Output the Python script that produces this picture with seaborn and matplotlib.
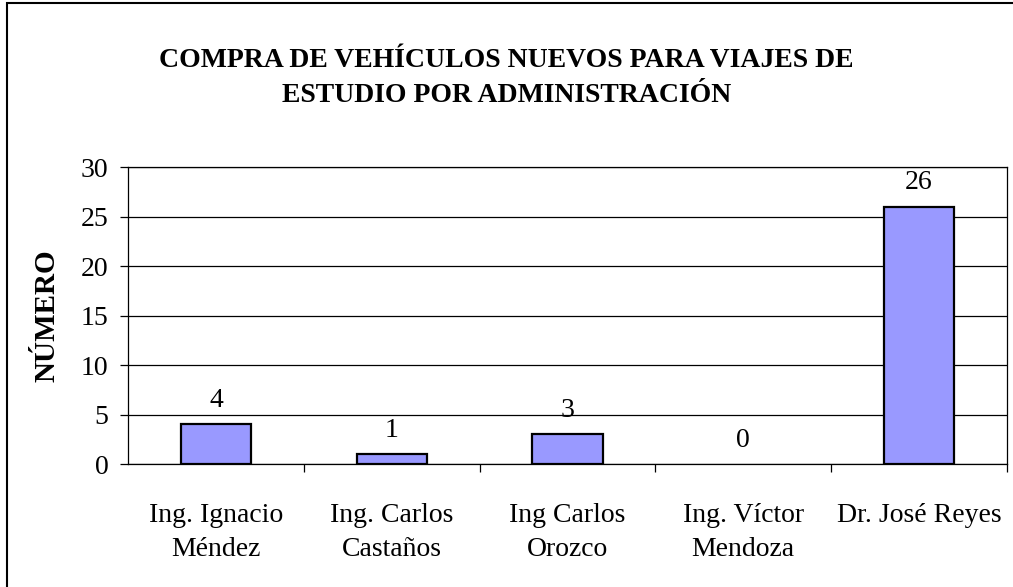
import matplotlib
matplotlib.use("Agg")
import matplotlib.pyplot as plt
import matplotlib.patches as patches
import pandas as pd
import seaborn as sns

# data
ADMINS = ["Ing. Ignacio\nMéndez", "Ing. Carlos\nCastaños", "Ing Carlos\nOrozco",
          "Ing. Víctor\nMendoza", "Dr. José Reyes"]
VEHICLES = [4, 1, 3, 0, 26]
Y_TICKS = [0, 5, 10, 15, 20, 25, 30]
TITLE = "COMPRA DE VEHÍCULOS NUEVOS PARA VIAJES DE\nESTUDIO POR ADMINISTRACIÓN"

sns.set_theme(style="white")
plt.rcParams["font.family"] = ["Liberation Serif", "DejaVu Serif"]
plt.rcParams["text.color"] = "black"
plt.rcParams["axes.labelcolor"] = "black"
plt.rcParams["xtick.color"] = "black"
plt.rcParams["ytick.color"] = "black"

df = pd.DataFrame({"admin": ADMINS, "n": VEHICLES})

fig = plt.figure(figsize=(10.13, 5.87), dpi=100)
ax = fig.add_axes([0.1264, 0.2095, 0.8676, 0.506])

sns.barplot(data=df, x="admin", y="n", color="#9999FF", edgecolor="black",
            linewidth=1.6, width=0.4, saturation=1, ax=ax, zorder=3)
# Excel draws nothing for a zero bar
for bar in ax.patches:
    if bar.get_height() == 0:
        bar.set_linewidth(0)

ax.set_ylim(0, 30)
ax.set_yticks(Y_TICKS)
ax.set_xlim(-0.5, len(ADMINS) - 0.5)
ax.yaxis.grid(True, color="black", linewidth=0.9, zorder=0)
ax.set_axisbelow(True)

for side in ["left", "right", "top", "bottom"]:
    ax.spines[side].set_visible(True)
    ax.spines[side].set_color("black")
    ax.spines[side].set_linewidth(0.9)

ax.tick_params(axis="y", which="major", direction="out", length=6, width=0.9,
               labelsize=20, pad=8, left=True)
ax.tick_params(axis="x", which="major", length=0, labelsize=20, pad=28)
ax.set_xticks([i + 0.5 for i in range(len(ADMINS))], minor=True)
ax.tick_params(axis="x", which="minor", direction="out", length=6, width=0.9,
               bottom=True)
for lbl in ax.get_xticklabels():
    lbl.set_linespacing(1.5)

ax.set_xlabel("")
ax.set_ylabel("NÚMERO", fontsize=21, fontweight="bold")
ax.yaxis.set_label_coords(-0.077, 0.5)

ax.bar_label(ax.containers[0], labels=[str(v) for v in VEHICLES],
             padding=8, fontsize=20)

fig.text(0.5, 0.8675, TITLE, ha="center", va="center", fontsize=20,
         fontweight="bold", linespacing=1.5)

# outer chart border (right and bottom edges fall outside the picture)
fig.patches.append(patches.Rectangle((7 / 1013, -0.1), 1.2, 1.1 - 3 / 587,
                                     transform=fig.transFigure, fill=False,
                                     edgecolor="black", linewidth=1.5))

fig.savefig("out.png", dpi=100)
